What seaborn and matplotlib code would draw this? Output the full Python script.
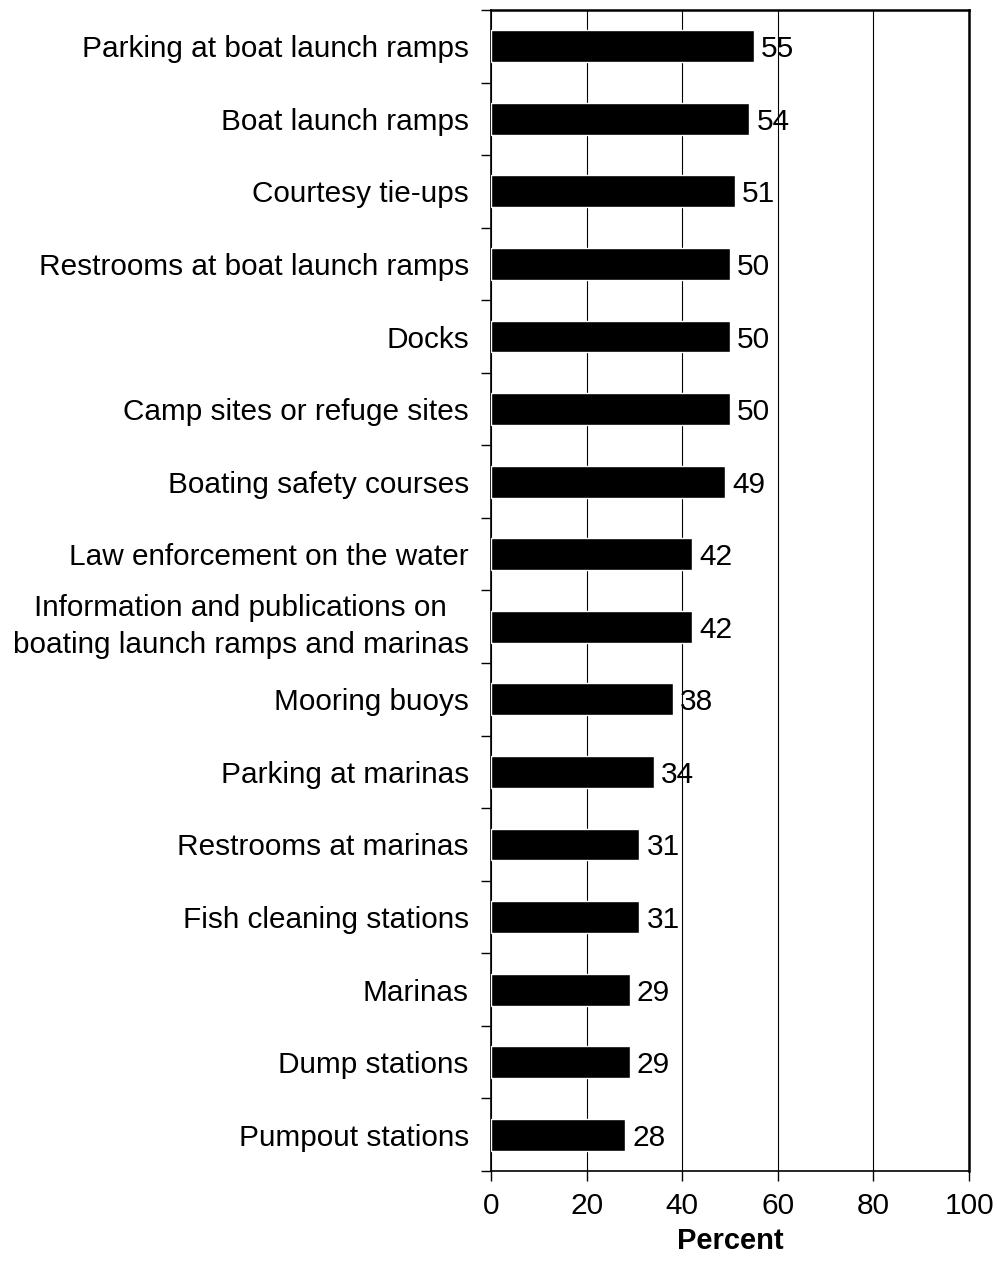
import numpy as np
import pandas as pd
import matplotlib
matplotlib.use('Agg')
import matplotlib.pyplot as plt
import seaborn as sns
from matplotlib.ticker import FixedLocator

# ==== DATA ====
facilities = [
    'Parking at boat launch ramps',
    'Boat launch ramps',
    'Courtesy tie-ups',
    'Restrooms at boat launch ramps',
    'Docks',
    'Camp sites or refuge sites',
    'Boating safety courses',
    'Law enforcement on the water',
    'Information and publications on\nboating launch ramps and marinas',
    'Mooring buoys',
    'Parking at marinas',
    'Restrooms at marinas',
    'Fish cleaning stations',
    'Marinas',
    'Dump stations',
    'Pumpout stations',
]
percent = [55, 54, 51, 50, 50, 50, 49, 42, 42, 38, 34, 31, 31, 29, 29, 28]
x_ticks = [0, 20, 40, 60, 80, 100]

df = pd.DataFrame({'Facility': facilities, 'Percent': percent})

# ==== STYLE ====
sns.set_style('white')
plt.rcParams['font.family'] = ['Liberation Sans', 'DejaVu Sans']
plt.rcParams['text.color'] = 'black'
plt.rcParams['xtick.color'] = 'black'
plt.rcParams['ytick.color'] = 'black'
plt.rcParams['axes.labelcolor'] = 'black'

fig = plt.figure(figsize=(9.97, 12.78), dpi=100)
ax = fig.add_axes([0.4925, 0.0837, 0.4795, 0.9085])

sns.barplot(data=df, y='Facility', x='Percent', orient='h', color='black',
            width=0.44, saturation=1, ax=ax, zorder=3)

# value labels
for i, v in enumerate(percent):
    ax.text(v + 1.5, i, str(v), va='center_baseline', ha='left',
            fontsize=21.5, color='black', zorder=4)

ax.set_xlim(0, 100)
ax.set_ylim(len(facilities) - 0.5, -0.5)
ax.set_xticks(x_ticks)
ax.xaxis.grid(True, color='black', linewidth=0.8)
ax.set_axisbelow(True)

# ticks between categories on the y axis
ax.yaxis.set_minor_locator(FixedLocator(np.arange(-0.5, len(facilities), 1)))
ax.tick_params(axis='y', which='major', length=0, labelsize=21.4, pad=16)
ax.tick_params(axis='y', which='minor', length=7, width=1, direction='out', left=True)
ax.tick_params(axis='x', which='major', length=7, width=1, direction='out',
               bottom=True, labelsize=21.5, pad=8)
for lbl in ax.get_yticklabels():
    lbl.set_multialignment('center')
    if '\n' in lbl.get_text():
        lbl.set_linespacing(1.4)
        lbl.set_va('center')

ax.set_ylabel('')
ax.set_xlabel('Percent', fontsize=21, fontweight='bold', labelpad=5)

for side in ['left', 'right', 'top', 'bottom']:
    ax.spines[side].set_visible(True)
    ax.spines[side].set_color('black')
ax.spines['left'].set_linewidth(1.2)
ax.spines['bottom'].set_linewidth(1.2)
ax.spines['right'].set_linewidth(1.8)
ax.spines['top'].set_linewidth(1.8)

fig.savefig('out.png', dpi=100)
